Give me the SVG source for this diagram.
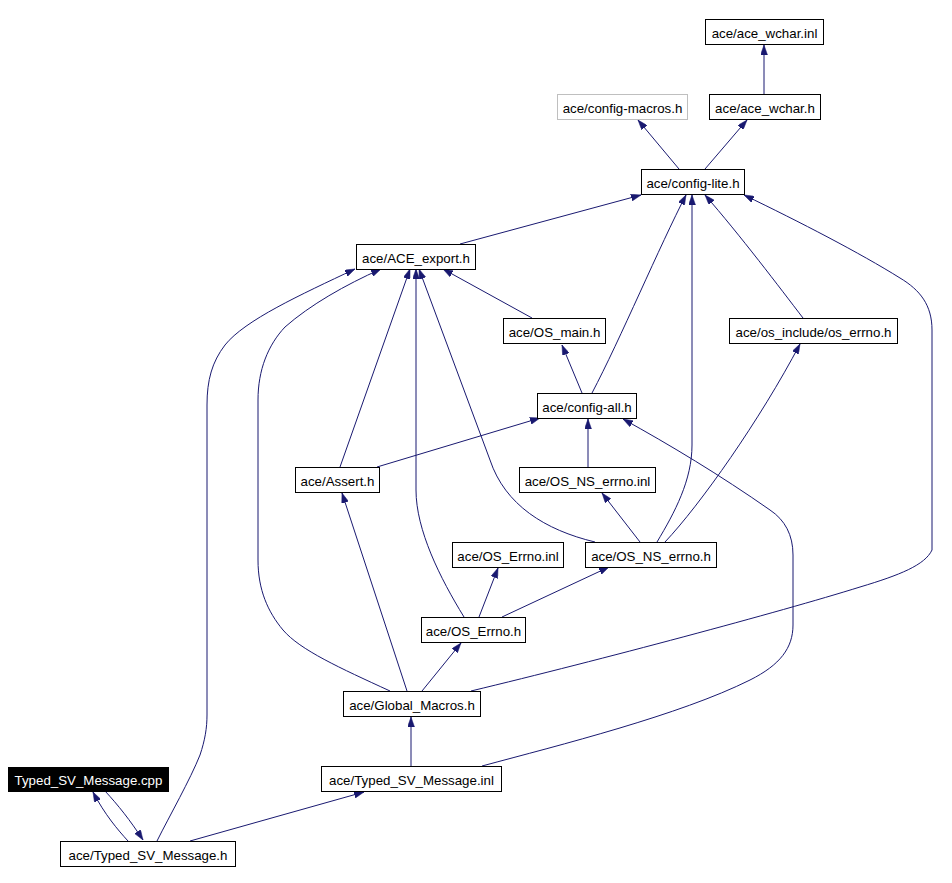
<svg xmlns="http://www.w3.org/2000/svg" width="952" height="883" viewBox="0 0 952 883">
<defs>
<style>
.n rect{fill:#fff;stroke:#000;stroke-width:1}
.n text{font-family:"Liberation Sans",Arial,sans-serif;font-size:13.3px;text-anchor:middle;fill:#000}
.g rect{stroke:#bfbfbf}
.cur rect{fill:#000}
.cur text{fill:#fff}
.e path{fill:none;stroke:#191970;stroke-width:1;marker-end:url(#a)}
</style>
<marker id="a" markerUnits="userSpaceOnUse" viewBox="0 0 10 7" markerWidth="10" markerHeight="7" refX="10" refY="3.5" orient="auto">
<path d="M0,0 L10,3.5 L0,7 z" fill="#191970" stroke="#191970" stroke-width="0.5"/>
</marker>
</defs>
<rect width="952" height="883" fill="#fff"/>
<g class="e" id="edges">
<path d="M764,94 L764,45"/>
<path d="M679,169 L638,120"/>
<path d="M705,169 L747,120"/>
<path d="M460,244 L641,195"/>
<path d="M592,393 C620,340 660,245 686,195"/>
<path d="M657,542 C675,512 692,480 692,445 L692,195"/>
<path d="M803,318 C780,288 740,235 705,195"/>
<path d="M471,691 C600,660 780,612 860,587 C900,575 925,565 932,550 L932,330 C932,305 920,290 900,278 C860,253 800,222 744,195"/>
<path d="M532,318 L443,269"/>
<path d="M340,467 L410,269"/>
<path d="M464,617 C440,578 416,530 416,490 L416,269"/>
<path d="M595,542 C545,530 505,505 490,460 L419,269"/>
<path d="M390,691 C340,668 300,650 283,630 C268,612 258,590 258,560 L258,400 C258,370 268,345 285,327 C310,305 345,285 381,269"/>
<path d="M157,841 C170,815 190,780 200,755 C205,740 207,728 207,715 L207,405 C207,380 212,362 225,345 C245,320 300,295 355,269"/>
<path d="M582,393 L562,345"/>
<path d="M588,467 L588,419"/>
<path d="M377,467 L540,418"/>
<path d="M482,766 C560,745 680,715 750,680 C780,665 793,648 793,625 L793,555 C793,535 785,520 770,510 C720,475 670,445 623,419"/>
<path d="M640,542 L602,493"/>
<path d="M665,542 C700,505 760,420 800,344"/>
<path d="M479,617 L498,568"/>
<path d="M502,617 L609,567"/>
<path d="M407,691 L342,493"/>
<path d="M422,691 L461,643"/>
<path d="M411,766 L411,717"/>
<path d="M190,841 L364,792"/>
<path d="M105,791 C118,805 130,820 143,840"/>
<path d="M128,841 C118,830 105,815 93,792"/>
</g>
<g class="n" id="ace_wchar_inl"><rect x="705.5" y="19.5" width="118" height="25"/><text x="764.5" y="37.5">ace/ace_wchar.inl</text></g>
<g class="n g" id="config_macros_h"><rect x="557.5" y="94.5" width="130" height="25"/><text x="622.5" y="112.5">ace/config-macros.h</text></g>
<g class="n" id="ace_wchar_h"><rect x="709.5" y="94.5" width="111" height="25"/><text x="765" y="112.5">ace/ace_wchar.h</text></g>
<g class="n" id="config_lite_h"><rect x="641.5" y="169.5" width="103" height="25"/><text x="693" y="187.5">ace/config-lite.h</text></g>
<g class="n" id="ACE_export_h"><rect x="356.5" y="244.5" width="119" height="25"/><text x="416" y="262.5">ace/ACE_export.h</text></g>
<g class="n" id="OS_main_h"><rect x="503.5" y="318.5" width="102" height="25"/><text x="554.5" y="336.5">ace/OS_main.h</text></g>
<g class="n" id="os_errno_h"><rect x="729.5" y="318.5" width="168" height="25"/><text x="813.5" y="336.5">ace/os_include/os_errno.h</text></g>
<g class="n" id="config_all_h"><rect x="537.5" y="393.5" width="99" height="25"/><text x="587" y="411.5">ace/config-all.h</text></g>
<g class="n" id="Assert_h"><rect x="295.5" y="467.5" width="84" height="25"/><text x="337.5" y="485.5">ace/Assert.h</text></g>
<g class="n" id="OS_NS_errno_inl"><rect x="519.5" y="467.5" width="136" height="25"/><text x="587.5" y="485.5">ace/OS_NS_errno.inl</text></g>
<g class="n" id="OS_Errno_inl"><rect x="452.5" y="542.5" width="111" height="25"/><text x="508" y="560.5">ace/OS_Errno.inl</text></g>
<g class="n" id="OS_NS_errno_h"><rect x="585.5" y="542.5" width="131" height="25"/><text x="651" y="560.5">ace/OS_NS_errno.h</text></g>
<g class="n" id="OS_Errno_h"><rect x="421.5" y="617.5" width="104" height="25"/><text x="473.5" y="635.5">ace/OS_Errno.h</text></g>
<g class="n" id="Global_Macros_h"><rect x="343.5" y="691.5" width="137" height="25"/><text x="412" y="709.5">ace/Global_Macros.h</text></g>
<g class="n cur" id="Typed_SV_Message_cpp"><rect x="8.5" y="767.5" width="160" height="24"/><text x="88.5" y="784.5">Typed_SV_Message.cpp</text></g>
<g class="n" id="Typed_SV_Message_inl"><rect x="321.5" y="766.5" width="180" height="25"/><text x="411.5" y="784.5">ace/Typed_SV_Message.inl</text></g>
<g class="n" id="Typed_SV_Message_h"><rect x="60.5" y="841.5" width="175" height="25"/><text x="148" y="859.5">ace/Typed_SV_Message.h</text></g>
</svg>
